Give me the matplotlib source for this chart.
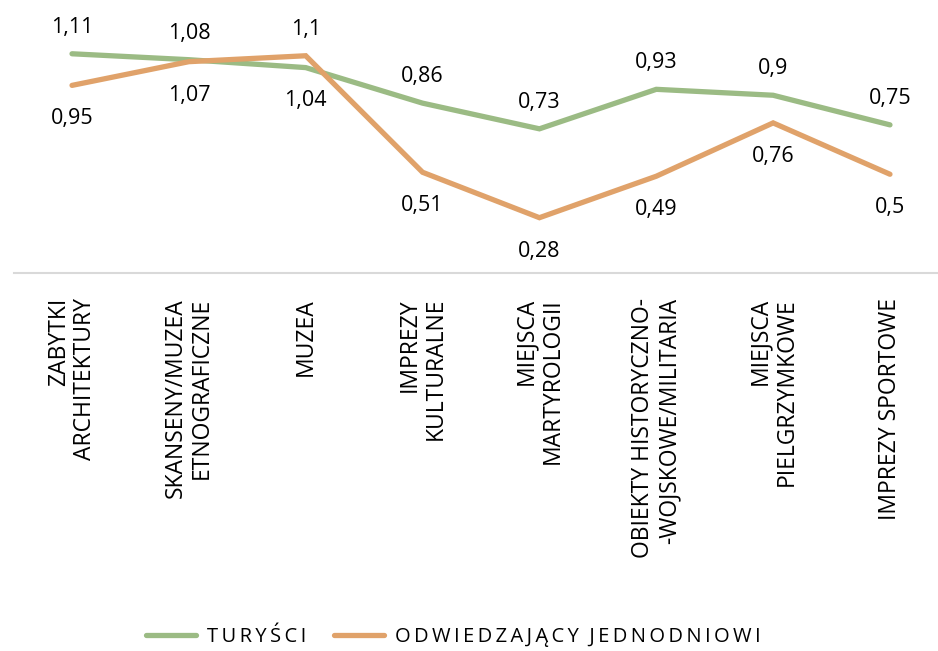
import matplotlib
matplotlib.use("Agg")
import matplotlib.pyplot as plt
from matplotlib.lines import Line2D

categories = [
    "ZABYTKI\nARCHITEKTURY",
    "SKANSENY/MUZEA\nETNOGRAFICZNE",
    "MUZEA",
    "IMPREZY\nKULTURALNE",
    "MIEJSCA\nMARTYROLOGII",
    "OBIEKTY HISTORYCZNO-\n-WOJSKOWE/MILITARIA",
    "MIEJSCA\nPIELGRZYMKOWE",
    "IMPREZY SPORTOWE",
]
turysci = [1.11, 1.08, 1.04, 0.86, 0.73, 0.93, 0.90, 0.75]
jednodniowi = [0.95, 1.07, 1.10, 0.51, 0.28, 0.49, 0.76, 0.50]
series_names = ["TURYŚCI", "ODWIEDZAJĄCY JEDNODNIOWI"]

GREEN = "#9BBB84"
ORANGE = "#E0A26A"
FONT = ["Open Sans", "DejaVu Sans"]

plt.rcParams["font.family"] = FONT

W, H = 938, 651
fig = plt.figure(figsize=(W / 100, H / 100), dpi=100)
ax_left, ax_right = 13.6, 948.4
ax_bottom_px, ymax = 273, 1.4
px_per_unit = 197.5
ax = fig.add_axes([ax_left / W, (H - ax_bottom_px) / H,
                   (ax_right - ax_left) / W, ymax * px_per_unit / H])

x = list(range(len(categories)))
ax.plot(x, turysci, color=GREEN, lw=3.8, solid_capstyle="round",
        solid_joinstyle="miter", zorder=3)
ax.plot(x, jednodniowi, color=ORANGE, lw=3.8, solid_capstyle="round",
        solid_joinstyle="miter", zorder=3)

def fmt(v):
    s = f"{v:.2f}".rstrip("0").rstrip(".")
    return s.replace(".", ",")

# the higher value of each pair is labelled above its point, the lower one below
for i, (a, b) in enumerate(zip(turysci, jednodniowi)):
    for v, other in ((a, b), (b, a)):
        dy = 19 if v >= other else -24
        ax.annotate(fmt(v), (i, v), xytext=(0, dy), textcoords="offset points",
                    ha="center", va="center", fontsize=15.5, color="#000000")

ax.set_xlim(-0.5, len(categories) - 0.5)
ax.set_ylim(0, ymax)
ax.set_yticks([])
ax.set_xticks(x)
ax.set_xticklabels(categories, rotation=90, fontsize=16.5, va="top", ha="center",
                   multialignment="right", color="#000000", linespacing=1.13)
ax.tick_params(axis="x", length=0, pad=18)
for side in ("top", "left", "right"):
    ax.spines[side].set_visible(False)
ax.spines["bottom"].set_color("#D9D9D9")
ax.spines["bottom"].set_linewidth(1.5)
ax.patch.set_visible(False)

def spaced(s):
    return "\u2009".join(s).replace("\u2009 \u2009", "  ")

handles = [Line2D([], [], color=GREEN, lw=3.8, solid_capstyle="round"),
           Line2D([], [], color=ORANGE, lw=3.8, solid_capstyle="round")]
fig.legend(handles, [spaced(n) for n in series_names], loc="center",
           bbox_to_anchor=(453.5 / W, 14 / H), ncol=2, frameon=False, fontsize=14.5,
           handlelength=2.5, handletextpad=0.55, columnspacing=1.35)

fig.savefig("out.png", dpi=100)
